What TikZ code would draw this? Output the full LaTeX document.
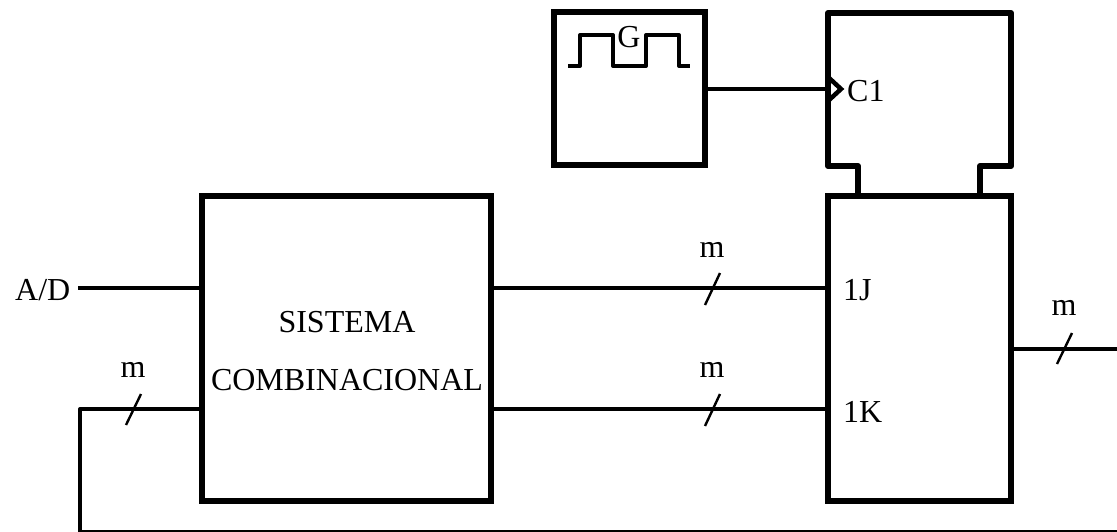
\documentclass[tikz,border=0pt]{standalone}
\usepackage{fontspec}
\setmainfont{Liberation Serif}
\tikzset{
  box/.style={draw=black,line width=6pt,fill=none,inner sep=0pt},
  wire/.style={draw=black,line width=4pt},
  tick/.style={draw=black,line width=2.4pt},
  lab/.style={inner sep=0pt,anchor=base,font=\fontsize{32}{38}\selectfont,text=black},
  labw/.style={lab,anchor=base west}
}
\begin{document}
\begin{tikzpicture}[x=1pt,y=-1pt]
\useasboundingbox (0,0) rectangle (1117,531);
\clip (0,0) rectangle (1117,531);
\fill[white] (0,0) rectangle (1117,531);
% generator
\node[box,minimum width=151pt,minimum height=153pt] (gen) at (629.5,88.5) {};
\draw[line width=4pt,line join=round] (568,66) -- (580,66) -- (580,35) -- (613,35) -- (613,66) -- (646,66) -- (646,35) -- (679,35) -- (679,66) -- (690,66);
\node[lab] (glab) at (629,47) {G};
% flip-flop
\draw[draw=black,line width=6pt,line join=round] (858,196) -- (858,166) -- (828,166) -- (828,13) -- (1011,13) -- (1011,166) -- (980,166) -- (980,196);
\coordinate (cktop) at (828,89);
\node[box,minimum width=183pt,minimum height=305pt] (ff) at (919.5,348.5) {};
\node[box,minimum width=289pt,minimum height=305pt] (comb) at (346.5,348.5) {};
\node[labw] (c1) at (847,101) {C1};
\draw[wire] (gen.east |- cktop) -- (cktop);
\draw[line width=4.5pt,line join=miter] (828,77) -- (841,89) -- (828,101);
\node[lab] (sis) at (347,332) {SISTEMA};
\node[lab] (com) at (347,390) {COMBINACIONAL};
\node[labw] (j) at (843,300) {1J};
\node[labw] (k) at (843,422) {1K};
\node[labw] (ad) at (15,300) {A/D};
\coordinate (adstart) at (78,288);
\draw[wire] (adstart) -- (comb.west |- adstart);
\coordinate (fbk) at (80,409);
\coordinate (fbb) at (80,532);
\draw[wire,line join=round] (comb.west |- fbk) -- (fbk) -- (fbb) -- (1117,532);
\coordinate (jy) at (0,288);
\coordinate (ky) at (0,409);
\draw[wire] (comb.east |- jy) -- (ff.west |- jy);
\draw[wire] (comb.east |- ky) -- (ff.west |- ky);
\coordinate (out) at (1117,349);
\draw[wire] (ff.east |- out) -- (out);
\draw[tick] (126,425) -- (141,394);
\draw[tick] (705,305) -- (720,273);
\draw[tick] (705,426) -- (720,394);
\draw[tick] (1057,364) -- (1072,333);
\node[lab] (m1) at (133,377) {m};
\node[lab] (m2) at (712,257) {m};
\node[lab] (m3) at (712,377) {m};
\node[lab] (m4) at (1064,315) {m};
\end{tikzpicture}
\end{document}
